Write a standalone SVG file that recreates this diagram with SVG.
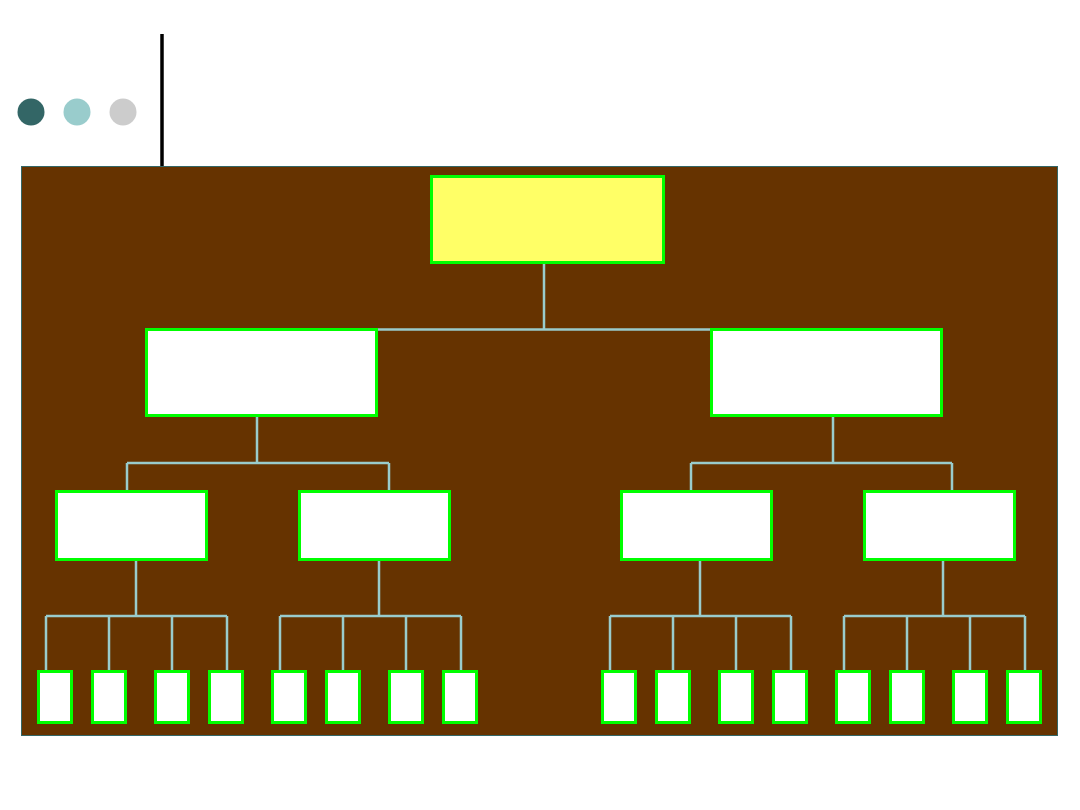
<svg xmlns="http://www.w3.org/2000/svg" width="1080" height="810" viewBox="0 0 1080 810">
<style>
.c{stroke:#99CCCC;stroke-width:2.5;fill:none}
.b{fill:#FFFFFF;stroke:#00FF00;stroke-width:3}
.t{fill:#FFFF66;stroke:#00FF00;stroke-width:3}
</style>
<rect width="1080" height="810" fill="#FFFFFF"/>
<g id="decor">
<circle cx="31" cy="112" r="13.5" fill="#336666"/>
<circle cx="77" cy="112" r="13.5" fill="#99CCCC"/>
<circle cx="123" cy="112" r="13.5" fill="#CCCCCC"/>
<line x1="162" y1="34" x2="162" y2="166" stroke="#000000" stroke-width="3.5"/>
</g>
<rect id="panel" x="21.5" y="166.5" width="1036" height="569" fill="#663300" stroke="#336666" stroke-width="1"/>
<g id="connectors">
<path class="c" d="M544,264V329.5M376,329.5H712"/>
<path class="c" d="M257,417V463M127,463H389M127,463V490M389,463V490"/>
<path class="c" d="M833,417V463M691,463H952M691,463V490M952,463V490"/>
<path class="c" d="M136,561V616M46,616H227M46,616V670M109,616V670M172,616V670M227,616V670"/>
<path class="c" d="M379,561V616M280,616H461M280,616V670M343,616V670M406,616V670M461,616V670"/>
<path class="c" d="M700,561V616M610,616H791M610,616V670M673,616V670M736,616V670M791,616V670"/>
<path class="c" d="M943,561V616M844,616H1025M844,616V670M907,616V670M970,616V670M1025,616V670"/>
</g>
<g id="n0"><rect class="t" x="431.5" y="176.5" width="232" height="86"/></g>
<g id="n1"><rect class="b" x="146.5" y="329.5" width="230" height="86"/></g>
<g id="n2"><rect class="b" x="711.5" y="329.5" width="230" height="86"/></g>
<g id="n11"><rect class="b" x="56.5" y="491.5" width="150" height="68"/></g>
<g id="n12"><rect class="b" x="299.5" y="491.5" width="150" height="68"/></g>
<g id="n21"><rect class="b" x="621.5" y="491.5" width="150" height="68"/></g>
<g id="n22"><rect class="b" x="864.5" y="491.5" width="150" height="68"/></g>
<g id="l1"><rect class="b" x="38.5" y="671.5" width="33" height="51"/></g>
<g id="l2"><rect class="b" x="92.5" y="671.5" width="33" height="51"/></g>
<g id="l3"><rect class="b" x="155.5" y="671.5" width="33" height="51"/></g>
<g id="l4"><rect class="b" x="209.5" y="671.5" width="33" height="51"/></g>
<g id="l5"><rect class="b" x="272.5" y="671.5" width="33" height="51"/></g>
<g id="l6"><rect class="b" x="326.5" y="671.5" width="33" height="51"/></g>
<g id="l7"><rect class="b" x="389.5" y="671.5" width="33" height="51"/></g>
<g id="l8"><rect class="b" x="443.5" y="671.5" width="33" height="51"/></g>
<g id="l9"><rect class="b" x="602.5" y="671.5" width="33" height="51"/></g>
<g id="l10"><rect class="b" x="656.5" y="671.5" width="33" height="51"/></g>
<g id="l11"><rect class="b" x="719.5" y="671.5" width="33" height="51"/></g>
<g id="l12"><rect class="b" x="773.5" y="671.5" width="33" height="51"/></g>
<g id="l13"><rect class="b" x="836.5" y="671.5" width="33" height="51"/></g>
<g id="l14"><rect class="b" x="890.5" y="671.5" width="33" height="51"/></g>
<g id="l15"><rect class="b" x="953.5" y="671.5" width="33" height="51"/></g>
<g id="l16"><rect class="b" x="1007.5" y="671.5" width="33" height="51"/></g>
</svg>
